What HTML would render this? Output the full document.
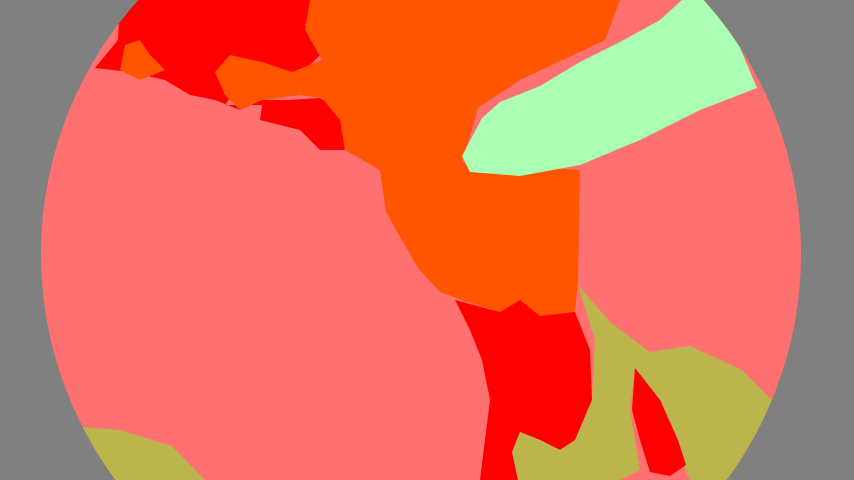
<!DOCTYPE html>
<html><head><meta charset="utf-8"><style>
html,body{margin:0;padding:0;background:#808080;}
svg{display:block}
</style></head><body>
<svg width="854" height="480" viewBox="0 0 854 480" xmlns="http://www.w3.org/2000/svg">
<defs><clipPath id="c"><circle cx="421" cy="254" r="380"/></clipPath></defs>
<rect width="854" height="480" fill="#808080"/>
<g clip-path="url(#c)">
<rect x="0" y="0" width="854" height="480" fill="#ff7070"/>
<polygon fill="#ff0000" points="120,0 320,0 305,25 325,50 300,75 262,62 240,82 225,105 262,105 260,120 300,130 320,150 345,150 340,110 320,98 290,100 262,100 240,110 215,100 190,95 165,80 130,72 95,68 118,40"/>
<polygon fill="#ff5500" points="310,0 620,0 605,40 520,80 478,108 462,162 580,170 578,280 575,312 540,316 520,300 500,312 462,300 440,292 418,268 402,240 386,212 380,170 345,150 340,120 322,98 300,95 262,100 240,110 225,95 215,72 230,55 262,62 292,72 322,60 305,30"/>
<polygon fill="#ff5500" points="125,45 140,40 150,55 165,70 140,80 120,70"/>
<polygon fill="#aaffb4" points="682,0 720,0 757,88 700,110 640,140 580,165 520,176 470,172 462,156 482,118 500,102 540,86 580,62 620,42 660,20"/>
<polygon fill="#ff0000" points="455,300 500,312 520,300 540,316 575,312 590,350 592,400 575,440 560,450 540,440 520,432 512,452 518,480 480,480 485,440 490,400 482,360 470,330"/>
<polygon fill="#bbb54c" points="578,285 610,322 650,352 690,346 742,370 772,400 740,480 690,480 680,458 662,402 635,368 630,410 640,470 620,480 518,480 512,452 520,432 540,440 560,450 575,440 592,400 595,340"/>
<polygon fill="#ff0000" points="635,368 660,400 678,440 686,465 670,476 650,472 640,440 632,410"/>
<polygon fill="#bbb54c" points="60,425 120,430 172,446 205,480 60,480"/>
</g>
</svg>
</body></html>
